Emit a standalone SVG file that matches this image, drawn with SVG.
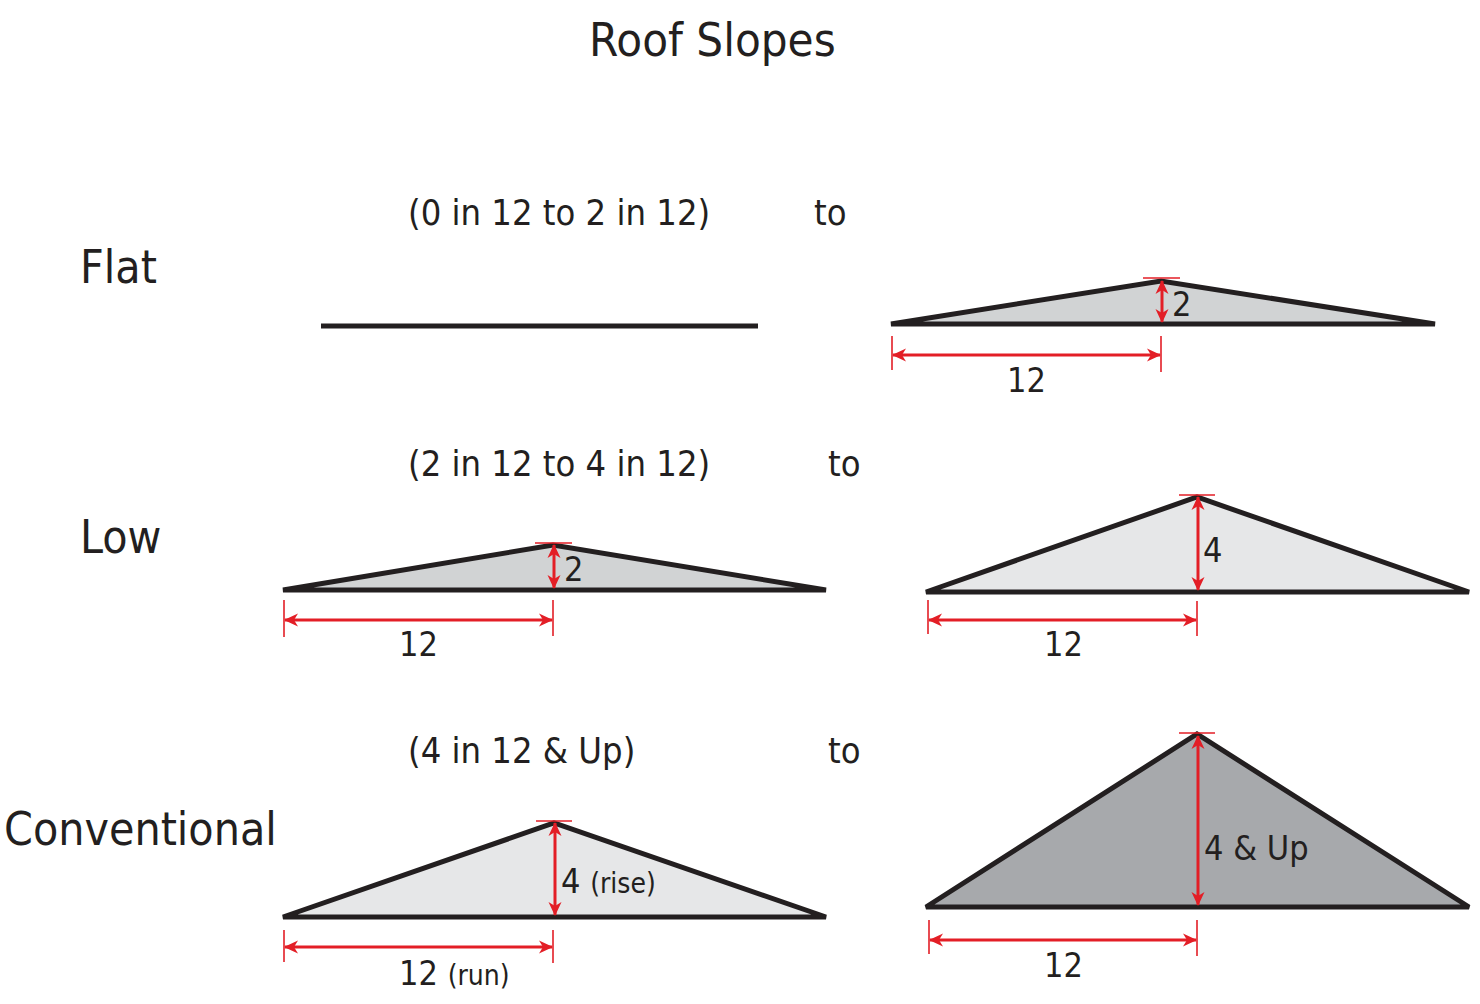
<svg xmlns="http://www.w3.org/2000/svg" width="1480" height="1004" viewBox="0 0 1480 1004">
<defs>
<style>
text{font-family:"DejaVu Sans Condensed","DejaVu Sans",sans-serif;fill:#231f20}
.title{font-size:47px}
.cat{font-size:46px}
.sub{font-size:36px}
.num{font-size:34px}
.small{font-size:28px}
.roof{stroke:#231f20;stroke-width:5;stroke-linejoin:miter;stroke-miterlimit:2}
.dim{stroke:#e31e26;stroke-width:3;fill:none}
.tick{stroke:#e31e26;stroke-width:1.6;fill:none}
</style>
<marker id="ah" viewBox="0 0 14 14" refX="13" refY="7" markerWidth="14" markerHeight="14" markerUnits="userSpaceOnUse" orient="auto-start-reverse">
<path d="M0,0.5 L14,7 L0,13.5 L4,7 Z" fill="#e31e26"/>
</marker>
</defs>
<rect width="1480" height="1004" fill="#fff"/>
<text class="title" x="589" y="56">Roof Slopes</text>

<g id="labels">
<text class="cat" x="80" y="283">Flat</text>
<text class="cat" x="80" y="553">Low</text>
<text class="cat" x="4" y="845">Conventional</text>
<text class="sub" x="408" y="225">(0 in 12 to 2 in 12)</text>
<text class="sub" x="814" y="225">to</text>
<text class="sub" x="408" y="476">(2 in 12 to 4 in 12)</text>
<text class="sub" x="828" y="476">to</text>
<text class="sub" x="408" y="763">(4 in 12 &amp; Up)</text>
<text class="sub" x="828" y="763">to</text>
</g>

<g id="flat-left">
<line x1="321" y1="326" x2="758" y2="326" stroke="#231f20" stroke-width="5"/>
</g>

<g id="flat-right">
<polygon class="roof" points="891,324 1161,281 1435,324" fill="#d1d3d4"/>
<line class="tick" x1="1143" y1="278" x2="1180" y2="278"/>
<line class="dim" x1="1162" y1="281" x2="1162" y2="322" marker-start="url(#ah)" marker-end="url(#ah)"/>
<text class="num" x="1172" y="316">2</text>
<line class="tick" x1="892" y1="336" x2="892" y2="370"/>
<line class="tick" x1="1161" y1="336" x2="1161" y2="372"/>
<line class="dim" x1="893" y1="355" x2="1160" y2="355" marker-start="url(#ah)" marker-end="url(#ah)"/>
<text class="num" x="1007" y="392">12</text>
</g>

<g id="low-left">
<polygon class="roof" points="283,590 553,545 826,590" fill="#d1d3d4"/>
<line class="tick" x1="535" y1="543" x2="572" y2="543"/>
<line class="dim" x1="554" y1="545" x2="554" y2="588" marker-start="url(#ah)" marker-end="url(#ah)"/>
<text class="num" x="564" y="581">2</text>
<line class="tick" x1="284" y1="600" x2="284" y2="637"/>
<line class="tick" x1="553" y1="600" x2="553" y2="636"/>
<line class="dim" x1="285" y1="620" x2="552" y2="620" marker-start="url(#ah)" marker-end="url(#ah)"/>
<text class="num" x="399" y="656">12</text>
</g>

<g id="low-right">
<polygon class="roof" points="926,592 1197,497 1469,592" fill="#e6e7e8"/>
<line class="tick" x1="1179" y1="495" x2="1215" y2="495"/>
<line class="dim" x1="1198" y1="497" x2="1198" y2="590" marker-start="url(#ah)" marker-end="url(#ah)"/>
<text class="num" x="1203" y="562">4</text>
<line class="tick" x1="928" y1="600" x2="928" y2="634"/>
<line class="tick" x1="1197" y1="601" x2="1197" y2="636"/>
<line class="dim" x1="929" y1="620" x2="1196" y2="620" marker-start="url(#ah)" marker-end="url(#ah)"/>
<text class="num" x="1044" y="656">12</text>
</g>

<g id="conventional-left">
<polygon class="roof" points="283,917 554,823 826,917" fill="#e6e7e8"/>
<line class="tick" x1="536" y1="821" x2="572" y2="821"/>
<line class="dim" x1="555" y1="823" x2="555" y2="915" marker-start="url(#ah)" marker-end="url(#ah)"/>
<text class="num" x="561" y="893">4 <tspan class="small">(rise)</tspan></text>
<line class="tick" x1="284" y1="930" x2="284" y2="962"/>
<line class="tick" x1="553" y1="930" x2="553" y2="963"/>
<line class="dim" x1="285" y1="947" x2="552" y2="947" marker-start="url(#ah)" marker-end="url(#ah)"/>
<text class="num" x="399" y="985">12 <tspan class="small">(run)</tspan></text>
</g>

<g id="conventional-right">
<polygon class="roof" points="926,907 1197,734 1469,907" fill="#a7a9ac"/>
<line class="tick" x1="1179" y1="733" x2="1215" y2="733"/>
<line class="dim" x1="1198" y1="736" x2="1198" y2="905" marker-start="url(#ah)" marker-end="url(#ah)"/>
<text class="num" x="1204" y="860">4 &amp; Up</text>
<line class="tick" x1="929" y1="920" x2="929" y2="954"/>
<line class="tick" x1="1197" y1="920" x2="1197" y2="956"/>
<line class="dim" x1="930" y1="940" x2="1196" y2="940" marker-start="url(#ah)" marker-end="url(#ah)"/>
<text class="num" x="1044" y="977">12</text>
</g>
</svg>
